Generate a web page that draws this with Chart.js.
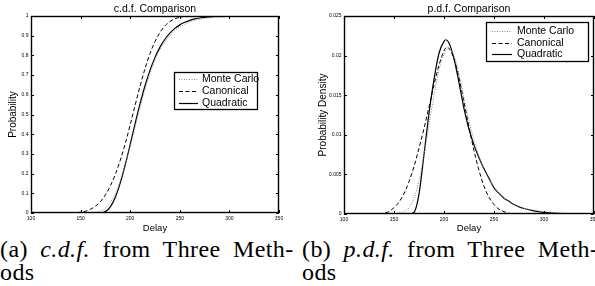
<!DOCTYPE html>
<html>
<head>
<meta charset="utf-8">
<script src="https://cdn.jsdelivr.net/npm/chart.js@4/dist/chart.umd.min.js"></script>
<style>
body{margin:0;background:#fff;width:595px;height:286px;overflow:hidden;position:relative;}
.plot{position:absolute;top:0;}
#wrap-cdf{left:0;width:297px;height:236px;}
#wrap-pdf{left:297px;width:298px;height:236px;}
.cap{position:absolute;top:238px;font-family:'Liberation Serif',serif;font-size:24px;line-height:23px;white-space:nowrap;color:#000;word-spacing:6px;letter-spacing:0.4px;}
#cap-a{left:0;}
#cap-b{left:302px;}
</style>
</head>
<body>
<div class="plot" id="wrap-cdf"><canvas id="chart-cdf" width="297" height="236"></canvas></div>
<div class="plot" id="wrap-pdf"><canvas id="chart-pdf" width="298" height="236"></canvas></div>
<div class="cap" id="cap-a">(a) <i>c.d.f.</i> from Three Meth-<br>ods</div>
<div class="cap" id="cap-b">(b) <i>p.d.f.</i> from Three Meth-<br>ods</div>
<script>
const delayTicks = [100, 150, 200, 250, 300, 350];
const probTicks = [0, 0.1, 0.2, 0.3, 0.4, 0.5, 0.6, 0.7, 0.8, 0.9, 1];
const densTicks = [0, 0.005, 0.01, 0.015, 0.02, 0.025];
const seriesNames = ['Monte Carlo', 'Canonical', 'Quadratic'];

// c.d.f. curves
const cdfMonteDelay = [150, 155, 160, 165, 170, 175, 180, 185, 190, 195, 200, 205, 210, 215, 220, 225, 230, 235, 240, 245, 250, 255, 260, 265, 270, 280, 290, 300, 310, 325];
const cdfMonteProb  = [0, 0.0003, 0.001, 0.004, 0.011, 0.026, 0.054, 0.099, 0.163, 0.244, 0.337, 0.437, 0.536, 0.627, 0.706, 0.775, 0.83, 0.87, 0.9, 0.926, 0.944, 0.958, 0.969, 0.977, 0.983, 0.991, 0.995, 0.998, 0.999, 1];
const cdfCanonDelay = [140, 145, 150, 155, 160, 165, 170, 175, 180, 185, 190, 195, 200, 205, 210, 215, 220, 225, 230, 235, 240, 245, 250, 255, 260];
const cdfCanonProb  = [0, 0.001, 0.004, 0.009, 0.019, 0.035, 0.058, 0.092, 0.138, 0.196, 0.268, 0.352, 0.448, 0.548, 0.645, 0.734, 0.81, 0.87, 0.916, 0.95, 0.972, 0.986, 0.994, 0.998, 1];
const cdfQuadDelay  = [165, 170, 175, 180, 185, 190, 195, 200, 205, 210, 215, 220, 225, 230, 235, 240, 245, 250, 255, 260, 265, 270, 280, 290, 300];
const cdfQuadProb   = [0, 0.001, 0.007, 0.031, 0.08, 0.153, 0.245, 0.348, 0.455, 0.556, 0.647, 0.725, 0.79, 0.842, 0.882, 0.913, 0.937, 0.955, 0.968, 0.978, 0.985, 0.99, 0.996, 0.999, 1];

// p.d.f. curves
const pdfMonteDelay = [150, 155, 160, 165, 170, 175, 180, 185, 190, 195, 200, 205, 210, 215, 220, 225, 230, 235, 240, 245, 250, 255, 260, 265, 270, 275, 280, 290, 300, 310, 320, 325];
const pdfMonteDens  = [0, 0.0001, 0.0003, 0.0008, 0.002, 0.0042, 0.0075, 0.0112, 0.015, 0.0182, 0.0202, 0.0209, 0.02, 0.0177, 0.0147, 0.0118, 0.0093, 0.0073, 0.0057, 0.0044, 0.0034, 0.0026, 0.002, 0.0016, 0.0012, 0.0009, 0.0007, 0.0005, 0.0003, 0.0002, 0.0001, 0];
const pdfCanonDelay = [135, 140, 145, 150, 155, 160, 165, 170, 175, 180, 185, 190, 195, 200, 203, 205, 210, 215, 220, 225, 230, 235, 240, 245, 250, 255, 260, 265, 270];
const pdfCanonDens  = [0, 0.0001, 0.0003, 0.0008, 0.0015, 0.0026, 0.0041, 0.006, 0.0083, 0.0108, 0.0135, 0.0163, 0.0188, 0.0206, 0.0211, 0.0209, 0.0196, 0.0172, 0.0141, 0.011, 0.008, 0.0055, 0.0035, 0.0021, 0.0012, 0.0006, 0.0003, 0.0001, 0];
const pdfQuadDelay  = [165, 170, 175, 180, 185, 190, 195, 200, 202, 205, 210, 215, 220, 225, 230, 235, 240, 245, 250, 255, 260, 265, 270, 275, 280, 290, 300, 310, 320];
const pdfQuadDens   = [0, 0.0002, 0.0025, 0.0075, 0.0127, 0.017, 0.0203, 0.0218, 0.022, 0.0216, 0.0196, 0.0166, 0.0133, 0.0107, 0.0087, 0.0071, 0.0057, 0.0045, 0.0033, 0.0026, 0.002, 0.0016, 0.0012, 0.0009, 0.0007, 0.0004, 0.0002, 0.0001, 0];

const FONT = '"Liberation Sans", Arial, sans-serif';

function pts(xs, ys) {
    return xs.map((x, i) => ({x: x, y: ys[i]}));
}

function makeSets(monte, canon, quad) {
    return [
        {label: seriesNames[0], data: monte, borderColor: '#8a8a8a', borderWidth: 1, borderDash: [1, 1.5]},
        {label: seriesNames[1], data: canon, borderColor: '#000', borderWidth: 1, borderDash: [4, 2.5]},
        {label: seriesNames[2], data: quad, borderColor: '#000', borderWidth: 1.2, borderDash: []}
    ];
}

// frame, inward ticks, title and boxed legend, matlab style
const framePlugin = {
    id: 'frame',
    afterDraw(chart, args, opts) {
        const ctx = chart.ctx;
        const a = chart.chartArea;
        const xs = chart.scales.x, ys = chart.scales.y;
        ctx.save();
        ctx.setLineDash([]);
        ctx.strokeStyle = '#000';
        ctx.lineWidth = 1;
        ctx.beginPath();
        xs.ticks.forEach(t => {
            const px = Math.round(xs.getPixelForValue(t.value)) + 0.5;
            ctx.moveTo(px, a.bottom); ctx.lineTo(px, a.bottom - 3);
            ctx.moveTo(px, a.top); ctx.lineTo(px, a.top + 3);
        });
        ys.ticks.forEach(t => {
            const py = Math.round(ys.getPixelForValue(t.value)) + 0.5;
            ctx.moveTo(a.left, py); ctx.lineTo(a.left + 3, py);
            ctx.moveTo(a.right, py); ctx.lineTo(a.right - 3, py);
        });
        ctx.stroke();
        ctx.lineWidth = 1.4;
        ctx.strokeRect(a.left + 0.5, a.top + 0.5, a.right - a.left - 1, a.bottom - a.top - 1);

        ctx.fillStyle = '#000';
        ctx.font = '10.5px ' + FONT;
        ctx.textAlign = 'center';
        ctx.textBaseline = 'middle';
        ctx.fillText(opts.title, (a.left + a.right) / 2, 9);

        const L = opts.legend;
        ctx.fillStyle = '#fff';
        ctx.fillRect(L.x0, L.y0, L.x1 - L.x0, L.y1 - L.y0);
        ctx.lineWidth = 1.3;
        ctx.strokeStyle = '#000';
        ctx.strokeRect(L.x0 + 0.5, L.y0 + 0.5, L.x1 - L.x0, L.y1 - L.y0);
        ctx.font = '10.5px ' + FONT;
        ctx.textAlign = 'left';
        chart.data.datasets.forEach((ds, i) => {
            const y = L.rows[i];
            ctx.strokeStyle = ds.borderColor;
            ctx.lineWidth = ds.borderWidth;
            ctx.setLineDash(ds.borderDash);
            ctx.beginPath();
            ctx.moveTo(L.s0, y + 0.5);
            ctx.lineTo(L.s1, y + 0.5);
            ctx.stroke();
            ctx.fillStyle = '#000';
            ctx.fillText(ds.label, L.tx, y + 0.5);
        });
        ctx.restore();
    }
};

function makeChart(id, sets, o) {
    return new Chart(document.getElementById(id).getContext('2d'), {
        type: 'line',
        data: {datasets: sets},
        options: {
            responsive: false,
            animation: false,
            devicePixelRatio: 1,
            layout: {padding: {top: 16, right: o.padRight, left: 0, bottom: 0}},
            elements: {point: {radius: 0}, line: {cubicInterpolationMode: 'monotone'}},
            plugins: {
                legend: {display: false},
                tooltip: {enabled: false},
                frame: {title: o.title, legend: o.legend}
            },
            scales: {
                x: {
                    type: 'linear', min: 100, max: 350,
                    afterBuildTicks: s => { s.ticks = delayTicks.map(v => ({value: v})); },
                    afterFit: s => { s.height = o.xHeight; s.paddingLeft = 0; s.paddingRight = 0; },
                    grid: {display: false, drawTicks: false},
                    border: {display: false},
                    ticks: {padding: 2.5, maxRotation: 0, color: '#000', font: {family: FONT, size: 5}, callback: v => String(v)},
                    title: {display: true, text: 'Delay', color: '#000', font: {family: FONT, size: 9.5}, padding: {top: 0, bottom: 1.5}}
                },
                y: {
                    type: 'linear', min: 0, max: o.yMax,
                    afterBuildTicks: s => { s.ticks = o.yTicks.map(v => ({value: v})); },
                    afterFit: s => { s.width = o.yWidth; s.paddingTop = 0; s.paddingBottom = 0; },
                    grid: {display: false, drawTicks: false},
                    border: {display: false},
                    ticks: {padding: 2.5, color: '#000', font: {family: FONT, size: 5}, callback: v => String(v)},
                    title: {display: true, text: o.yTitle, color: '#000', font: {family: FONT, size: 10}, padding: {top: o.yTitlePad, bottom: 0}}
                }
            }
        },
        plugins: [framePlugin]
    });
}

makeChart('chart-cdf',
    makeSets(pts(cdfMonteDelay, cdfMonteProb), pts(cdfCanonDelay, cdfCanonProb), pts(cdfQuadDelay, cdfQuadProb)),
    {
        title: 'c.d.f. Comparison', yTitle: 'Probability', yMax: 1, yTicks: probTicks,
        padRight: 18, yWidth: 31, xHeight: 23, yTitlePad: 7,
        legend: {x0: 174, y0: 72, x1: 257, y1: 109, rows: [79, 91, 103], s0: 179, s1: 198, tx: 202}
    });

makeChart('chart-pdf',
    makeSets(pts(pdfMonteDelay, pdfMonteDens), pts(pdfCanonDelay, pdfCanonDens), pts(pdfQuadDelay, pdfQuadDens)),
    {
        title: 'p.d.f. Comparison', yTitle: 'Probability Density', yMax: 0.025, yTicks: densTicks,
        padRight: 1, yWidth: 47, xHeight: 22, yTitlePad: 20,
        legend: {x0: 189, y0: 22, x1: 291, y1: 61, rows: [31, 43, 54], s0: 195, s1: 215, tx: 220}
    });
</script>
</body>
</html>
